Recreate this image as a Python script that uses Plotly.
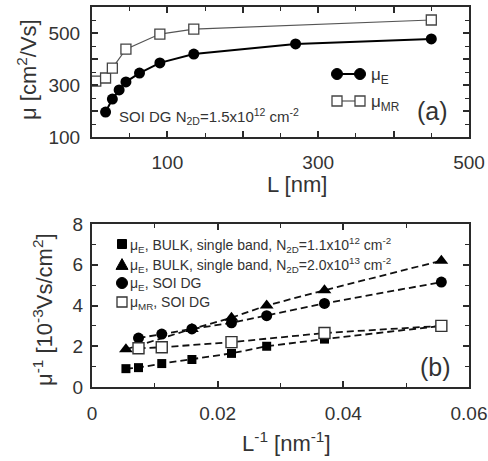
import plotly.graph_objects as go

W, H = 488, 461

# ---------------- Panel (a) data ----------------
L_E = [18, 27, 36, 45, 63, 90, 135, 270, 450]
mu_E = [196, 246, 281, 312, 346, 385, 419, 458, 477]
L_MR = [5, 18, 27, 45, 90, 135, 450]
mu_MR = [315, 327, 365, 438, 496, 515, 550]

# ---------------- Panel (b) data ----------------
invL_bulk1 = [0.0054, 0.0074, 0.0111, 0.0159, 0.0222, 0.0278, 0.0370, 0.0556]
inv_mu_bulk1 = [0.90, 0.95, 1.15, 1.35, 1.65, 2.00, 2.35, 3.00]
invL_bulk2 = [0.0054, 0.0159, 0.0222, 0.0278, 0.0370, 0.0556]
inv_mu_bulk2 = [1.85, 2.85, 3.40, 4.00, 4.75, 6.20]
invL_soiE = [0.0074, 0.0111, 0.0159, 0.0222, 0.0278, 0.0370, 0.0556]
inv_mu_soiE = [2.40, 2.60, 2.85, 3.15, 3.50, 4.10, 5.15]
invL_soiMR = [0.0074, 0.0111, 0.0222, 0.0370, 0.0556]
inv_mu_soiMR = [1.90, 1.95, 2.20, 2.65, 3.00]

# tick labels
xa_tickvals = [0, 100, 200, 300, 400, 500]
xa_ticktext = ["", "100", "", "300", "", "500"]
ya_tickvals = [100, 200, 300, 400, 500, 600]
ya_ticktext = ["100", "", "300", "", "500", ""]
xb_tickvals = [0, 0.02, 0.04, 0.06]
xb_ticktext = ["0", "0.02", "0.04", "0.06"]
yb_tickvals = [0, 2, 4, 6, 8]
yb_ticktext = ["0", "2", "4", "6", "8"]

FONT = "Liberation Sans, Arial, Helvetica, sans-serif"
INK = "#2a2a2a"
TXT = "#333333"


def px(x):
    return x / W


def py(y):
    return 1 - y / H


fig = go.Figure()

# Panel (a)
fig.add_trace(go.Scatter(x=L_MR, y=mu_MR, mode="lines+markers", xaxis="x", yaxis="y",
                         line=dict(color="#555555", width=1.2),
                         marker=dict(symbol="square", size=10, color="white",
                                     line=dict(color="#444444", width=1.3)),
                         showlegend=False))
fig.add_trace(go.Scatter(x=L_E, y=mu_E, mode="lines+markers", xaxis="x", yaxis="y",
                         line=dict(color="black", width=2),
                         marker=dict(symbol="circle", size=11, color="black"),
                         showlegend=False))

# Panel (b) dashed lines
DASH = "7px,4px"
for xs, ys in [(invL_bulk1, inv_mu_bulk1), (invL_bulk2, inv_mu_bulk2),
               (invL_soiE, inv_mu_soiE), (invL_soiMR, inv_mu_soiMR)]:
    fig.add_trace(go.Scatter(x=xs, y=ys, mode="lines", xaxis="x2", yaxis="y2",
                             line=dict(color="#111111", width=1.8, dash=DASH),
                             showlegend=False))
# markers
fig.add_trace(go.Scatter(x=invL_bulk1, y=inv_mu_bulk1, mode="markers", xaxis="x2", yaxis="y2",
                         marker=dict(symbol="square", size=9, color="black"), showlegend=False))
fig.add_trace(go.Scatter(x=invL_bulk2, y=inv_mu_bulk2, mode="markers", xaxis="x2", yaxis="y2",
                         marker=dict(symbol="triangle-up", size=12, color="black"), showlegend=False))
fig.add_trace(go.Scatter(x=invL_soiE, y=inv_mu_soiE, mode="markers", xaxis="x2", yaxis="y2",
                         marker=dict(symbol="circle", size=11, color="black"), showlegend=False))
fig.add_trace(go.Scatter(x=invL_soiMR, y=inv_mu_soiMR, mode="markers", xaxis="x2", yaxis="y2",
                         marker=dict(symbol="square", size=11, color="white",
                                     line=dict(color="#333333", width=1.4)),
                         showlegend=False))

axis_common = dict(showline=True, linecolor=INK, linewidth=2, mirror="ticks",
                   ticks="inside", ticklen=6, tickwidth=1.5, tickcolor=INK,
                   showgrid=False, zeroline=False, automargin=False,
                   tickfont=dict(family=FONT, size=19, color=TXT))

fig.update_layout(
    width=W, height=H, autosize=False,
    margin=dict(l=0, r=0, t=0, b=0, pad=0, autoexpand=False),
    paper_bgcolor="white", plot_bgcolor="white",
    font=dict(family=FONT, color=TXT),
    xaxis=dict(domain=[px(92), px(469)], range=[0, 500], anchor="y",
               tickmode="array", tickvals=xa_tickvals, ticktext=xa_ticktext,
               minor=dict(ticks="inside", ticklen=4, tickwidth=1.2, tickcolor=INK, dtick=50, tick0=0),
               ticklabelstandoff=7, **axis_common),
    yaxis=dict(domain=[py(137), py(7)], range=[100, 600], anchor="x",
               tickmode="array", tickvals=ya_tickvals, ticktext=ya_ticktext,
               minor=dict(ticks="inside", ticklen=4, tickwidth=1.2, tickcolor=INK, dtick=50, tick0=0),
               ticklabelstandoff=6, **axis_common),
    xaxis2=dict(domain=[px(92), px(469)], range=[0, 0.06], anchor="y2",
                tickmode="array", tickvals=xb_tickvals, ticktext=xb_ticktext,
                minor=dict(ticks="inside", ticklen=4, tickwidth=1.2, tickcolor=INK, dtick=0.01, tick0=0),
                ticklabelstandoff=8, **axis_common),
    yaxis2=dict(domain=[py(387), py(224)], range=[0, 8], anchor="x2",
                tickmode="array", tickvals=yb_tickvals, ticktext=yb_ticktext,
                minor=dict(ticks="inside", ticklen=4, tickwidth=1.2, tickcolor=INK, dtick=1, tick0=0),
                ticklabelstandoff=3, **axis_common),
)

ann = []


def add_text(text, x, y, size, xanchor="center", yanchor="middle", angle=0):
    ann.append(dict(text=text, x=px(x), y=py(y), xref="paper", yref="paper",
                    xanchor=xanchor, yanchor=yanchor, showarrow=False, textangle=angle,
                    font=dict(family=FONT, size=size, color=TXT)))


# axis titles
add_text("μ [cm<sup>2</sup>/Vs]", 27, 70, 22, angle=-90)
add_text("L [nm]", 297, 184, 22)
add_text("μ<sup>-1</sup> [10<sup>-3</sup>Vs/cm<sup>2</sup>]", 43, 310, 22, angle=-90)
add_text("L<sup>-1</sup> [nm<sup>-1</sup>]", 286, 442, 22)

# panel labels
add_text("(a)", 432, 111, 25)
add_text("(b)", 435, 367, 25)

# panel (a) annotation
add_text("SOI DG N<sub>2D</sub>=1.5x10<sup>12</sup> cm<sup>-2</sup>", 117, 117, 15, xanchor="left")

# panel (a) legend text
add_text("μ<sub>E</sub>", 369, 76, 17, xanchor="left")
add_text("μ<sub>MR</sub>", 369, 103, 17, xanchor="left")

# panel (b) legend text
leg_b = [
    ("μ<sub>E</sub>, BULK, single band, N<sub>2D</sub>=1.1x10<sup>12</sup> cm<sup>-2</sup>", 245),
    ("μ<sub>E</sub>, BULK, single band, N<sub>2D</sub>=2.0x10<sup>13</sup> cm<sup>-2</sup>", 265),
    ("μ<sub>E</sub>, SOI DG", 284),
    ("μ<sub>MR</sub>, SOI DG", 303),
]
for t, y in leg_b:
    add_text(t, 128, y, 14, xanchor="left")

fig.update_layout(annotations=ann)

# legend glyphs (shapes in paper coords)
shapes = []


def circ(cx, cy, r, fill="black", line="black"):
    shapes.append(dict(type="circle", xref="paper", yref="paper",
                       x0=px(cx - r), x1=px(cx + r), y0=py(cy + r), y1=py(cy - r),
                       fillcolor=fill, line=dict(color=line, width=1)))


def rect(cx, cy, h, fill="black", line="black", lw=1):
    shapes.append(dict(type="rect", xref="paper", yref="paper",
                       x0=px(cx - h), x1=px(cx + h), y0=py(cy + h), y1=py(cy - h),
                       fillcolor=fill, line=dict(color=line, width=lw)))


def seg(x0, y0, x1, y1, color="black", w=2):
    shapes.append(dict(type="line", xref="paper", yref="paper",
                       x0=px(x0), x1=px(x1), y0=py(y0), y1=py(y1),
                       line=dict(color=color, width=w)))


def tri(cx, cy, s):
    path = "M {} {} L {} {} L {} {} Z".format(px(cx - s), py(cy + s * 0.9), px(cx + s), py(cy + s * 0.9),
                                              px(cx), py(cy - s * 0.9))
    shapes.append(dict(type="path", xref="paper", yref="paper", path=path,
                       fillcolor="black", line=dict(color="black", width=1)))


# (a) legend
seg(337, 74, 360, 74, "black", 2)
circ(337, 74, 5.5)
circ(360, 74, 5.5)
seg(337, 101, 360, 101, "#555555", 1.2)
rect(337, 101, 5, fill="white", line="#444444", lw=1.3)
rect(360, 101, 5, fill="white", line="#444444", lw=1.3)

# (b) legend
rect(122, 244, 4.5)
tri(122, 264, 6)
circ(122, 283, 5.5)
rect(122, 302, 5, fill="white", line="#333333", lw=1.3)

fig.update_layout(shapes=shapes)

fig.write_html("out.html", config={"responsive": False, "displayModeBar": False},
               post_script="document.body.style.margin='0';document.body.style.padding='0';"
                           "document.documentElement.style.overflow='hidden';")
